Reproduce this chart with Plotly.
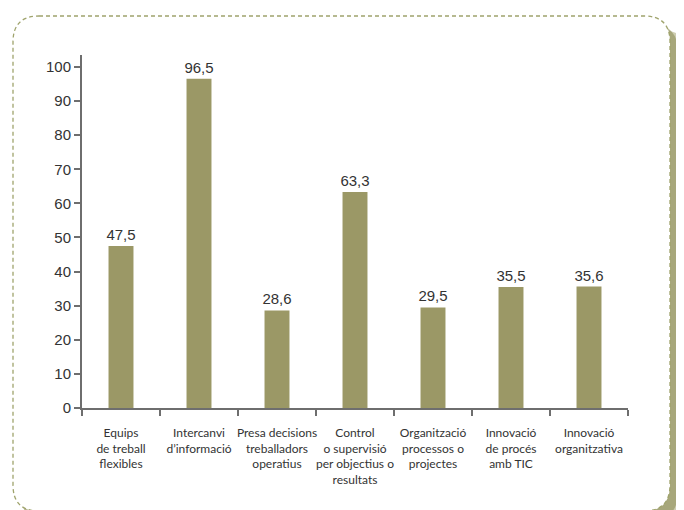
import plotly.graph_objects as go

# --- data ---
categories = [
    "Equips<br>de treball<br>flexibles",
    "Intercanvi<br>d’informació",
    "Presa decisions<br>treballadors<br>operatius",
    "Control<br>o supervisió<br>per objectius o<br>resultats",
    "Organització<br>processos o<br>projectes",
    "Innovació<br>de procés<br>amb TIC",
    "Innovació<br>organitzativa",
]
values = [47.5, 96.5, 28.6, 63.3, 29.5, 35.5, 35.6]
y_ticks = [0, 10, 20, 30, 40, 50, 60, 70, 80, 90, 100]

BAR = "#9b9866"
AXIS = "#6e6e6e"
FRAME = "#9fa36c"

# page has an 8px body margin, so the figure is drawn 8px in from the window edge
W, H = 676, 502
L, R, T, B = 74, 56, 47, 102
PW, PH = W - L - R, H - T - B


def px(x, y):
    """figure pixel -> paper coords"""
    return (x - L) / PW, (H - B - y) / PH


def rounded_path(x0, y0, x1, y1, r):
    def p(x, y):
        a = px(x, y)
        return f"{a[0]:.5f},{a[1]:.5f}"
    return " ".join([
        "M" + p(x0 + r, y0),
        "L" + p(x1 - r, y0),
        "Q" + p(x1, y0) + " " + p(x1, y0 + r),
        "L" + p(x1, y1 - r),
        "Q" + p(x1, y1) + " " + p(x1 - r, y1),
        "L" + p(x0 + r, y1),
        "Q" + p(x0, y1) + " " + p(x0, y1 - r),
        "L" + p(x0, y0 + r),
        "Q" + p(x0, y0) + " " + p(x0 + r, y0),
        "Z",
    ])


fig = go.Figure(
    go.Bar(
        x=categories,
        y=values,
        width=0.32,
        marker=dict(color=BAR, line=dict(width=0)),
        texttemplate="%{y:.1f}",
        textposition="outside",
        constraintext="none",
        textfont=dict(family="Liberation Sans, Arial", size=15, color="#333333"),
        cliponaxis=False,
        hoverinfo="skip",
    )
)

# soft olive shadow to the right, then the dashed rounded frame
fig.add_shape(type="path", xref="paper", yref="paper", layer="below",
              path=rounded_path(20, 22, 682, 520, 30),
              fillcolor="#b9b991", line=dict(width=0), opacity=0.7)
fig.add_shape(type="path", xref="paper", yref="paper", layer="below",
              path=rounded_path(12, 16, 670, 512, 28),
              fillcolor="#9a9a68", line=dict(width=0), opacity=0.75)
fig.add_shape(type="path", xref="paper", yref="paper", layer="below",
              path=rounded_path(5, 8, 662, 503, 26),
              fillcolor="white", line=dict(color=FRAME, width=1.3, dash="4px,3px"))

fig.update_layout(
    width=W, height=H,
    margin=dict(l=L, r=R, t=T, b=B, autoexpand=False),
    paper_bgcolor="white",
    plot_bgcolor="rgba(0,0,0,0)",
    separators=",.",
    showlegend=False,
)
fig.update_xaxes(
    type="category",
    tickson="boundaries",
    ticks="outside", ticklen=6, tickwidth=1.5, tickcolor=AXIS,
    showline=True, linecolor=AXIS, linewidth=1.5,
    showgrid=False, zeroline=False,
    tickfont=dict(family="Lato, Noto Sans", size=12, color="#333333"),
    ticklabelstandoff=13,
    tickangle=0,
)
fig.update_yaxes(
    range=[0, 103.5],
    tickvals=y_ticks,
    ticks="outside", ticklen=6, tickwidth=1.5, tickcolor=AXIS,
    showline=True, linecolor=AXIS, linewidth=2,
    showgrid=False, zeroline=False,
    tickfont=dict(family="Liberation Sans, Arial", size=15, color="#333333"),
)

fig.write_html("out.html")
